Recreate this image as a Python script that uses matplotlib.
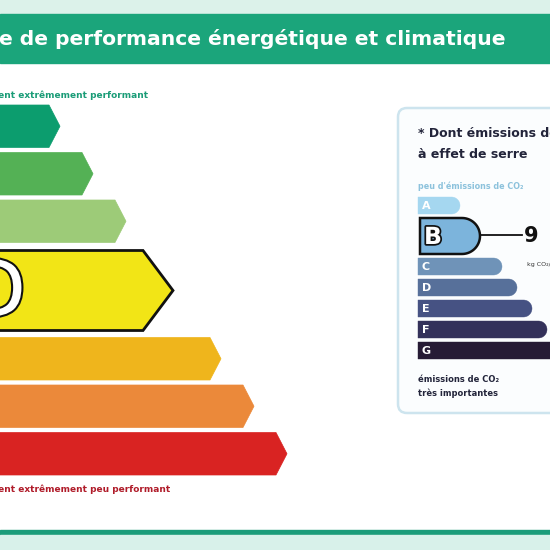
import numpy as np
import matplotlib.pyplot as plt
from matplotlib.patches import Polygon, Rectangle, FancyBboxPatch
import matplotlib.patheffects as pe

# energy classes (main scale)
classes = ['A', 'B', 'C', 'D', 'E', 'F', 'G']
energy_tip = [60, 93, 126, 173, 221, 254, 287]
energy_colors = ['#0c9d6e', '#54b155', '#9dcb78', '#f2e516', '#efb51c', '#eb893a', '#d92322']
current = 'D'

# greenhouse gas classes (right panel)
co2_end = [460, 480, 502, 517, 532, 547, 580]
co2_colors = ['#a5d7f0', '#7cb4dc', '#6f93b8', '#57709a', '#465283', '#33315a', '#261b35']
co2_current = 'B'
co2_value = '9'

title = 'e de performance énergétique et climatique'
top_label = 'logement extrêmement performant'
bottom_label = 'logement extrêmement peu performant'

fig = plt.figure(figsize=(5.5, 5.5), dpi=100)
ax = fig.add_axes([0, 0, 1, 1])
ax.set_xlim(0, 550)
ax.set_ylim(550, 0)
ax.axis('off')

# header and footer bands
ax.add_patch(Rectangle((0, 0), 550, 14, color='#dcf2ea'))
ax.add_patch(Rectangle((0, 14), 550, 49, color='#1ba57b'))
ax.add_patch(Rectangle((0, 530), 550, 5, color='#1b9c7a'))
ax.add_patch(Rectangle((0, 535), 550, 15, color='#d8f1ea'))
ax.text(-1, 39, title, color='white', fontsize=14.6, fontweight='bold',
        ha='left', va='center')

ax.text(148, 95, top_label, color='#1a9c77', fontsize=6.5, fontweight='bold',
        ha='right', va='center')
ax.text(170, 489, bottom_label, color='#b01c2a', fontsize=6.5, fontweight='bold',
        ha='right', va='center')

# main arrows
y = 105
for cls, tip, col in zip(classes, energy_tip, energy_colors):
    big = cls == current
    h = 80 if big else 42.5
    tl = 30 if big else 11
    if big:
        y += 3
    pts = [(-5, y), (tip - tl, y), (tip, y + h / 2), (tip - tl, y + h), (-5, y + h)]
    ax.add_patch(Polygon(pts, closed=True, facecolor=col,
                         edgecolor='#111111' if big else col,
                         linewidth=2 if big else 0.5))
    if big:
        ax.text(26, y + h / 2 + 4, cls, color='white', fontsize=57,
                ha='right', va='center',
                path_effects=[pe.withStroke(linewidth=3, foreground='#111111')])
        y += 2
    y += h + 5

# right panel
ax.add_patch(FancyBboxPatch((398, 108), 170, 305,
                            boxstyle='round,pad=0,rounding_size=9',
                            facecolor='#fbfdfe', edgecolor='#cde4ee', linewidth=1.8))
ax.text(418, 133, '* Dont émissions de gaz', color='#22243a', fontsize=9,
        fontweight='bold', ha='left', va='center')
ax.text(418, 155, 'à effet de serre', color='#22243a', fontsize=9,
        fontweight='bold', ha='left', va='center')
ax.text(418, 186, "peu d'émissions de CO₂", color='#8cc2dc', fontsize=5.8,
        fontweight='bold', ha='left', va='center')
ax.text(418, 379, 'émissions de CO₂', color='#22243a', fontsize=6,
        fontweight='bold', ha='left', va='center')
ax.text(418, 393, 'très importantes', color='#22243a', fontsize=6,
        fontweight='bold', ha='left', va='center')

th = np.linspace(-np.pi / 2, np.pi / 2, 30)
y = 197
for cls, xe, col in zip(classes, co2_end, co2_colors):
    big = cls == co2_current
    h = 36 if big else 17
    x0 = 420 if big else 418
    r = h / 2
    pts = [(x0, y)] + [(xe - r + r * np.cos(t), y + r + r * np.sin(t)) for t in th] + [(x0, y + h)]
    ax.add_patch(Polygon(pts, closed=True, facecolor=col,
                         edgecolor='#111111' if big else col,
                         linewidth=1.8 if big else 0.3))
    if big:
        ax.text(x0 + 4, y + r + 1, cls, color='white', fontsize=17, fontweight='bold',
                ha='left', va='center',
                path_effects=[pe.withStroke(linewidth=2.5, foreground='#111111')])
        ax.plot([xe + 1, 522], [y + r - 1, y + r - 1], color='#111111', lw=1.3)
        ax.text(524, y + r, co2_value, color='#111111', fontsize=15,
                fontweight='bold', ha='left', va='center')
        ax.text(527, y + h + 10, 'kg CO₂/m²/an', color='#333333', fontsize=4.5,
                ha='left', va='center')
    else:
        ax.text(x0 + 4, y + r + 0.5, cls, color='white', fontsize=8, fontweight='bold',
                ha='left', va='center')
    y += h + 4

fig.savefig('out.png', dpi=100)
